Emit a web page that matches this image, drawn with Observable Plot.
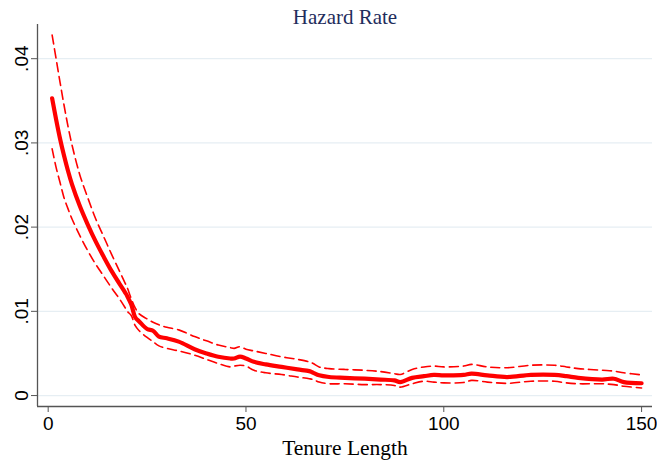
<!DOCTYPE html>
<html><head><meta charset="utf-8">
<script src="https://cdn.jsdelivr.net/npm/d3@7"></script>
<script src="https://cdn.jsdelivr.net/npm/@observablehq/plot@0.6"></script>
<style>body{margin:0;background:#fff}</style>
</head><body><div id="chart"></div>
<script>
const tenure = [1,2,3,4,5,6,8,10,12,14,16,18,19.5,20,21,22,23,25,26.5,28,30,33,37,40,43,46,47,48.5,50,52,55,59,63,66,67,68.5,71,75,80,84,87.5,89,92,95,97.5,100,105,107,111,116,122,128,131,134,140,143,145.5,150];
const hazard = [.0353,.0328,.0305,.0285,.0267,.0251,.0225,.0203,.0183,.0165,.0148,.0133,.0122,.0118,.0108,.0093,.0088,.0079,.0077,.0070,.0068,.0064,.0055,.0050,.0046,.0044,.0044,.00463,.0044,.0040,.0037,.0034,.0031,.0029,.0027,.0024,.0022,.0021,.0020,.0019,.0018,.0016,.0021,.0023,.00245,.0024,.00245,.0026,.0024,.0022,.00245,.00245,.0023,.0021,.0019,.0020,.0016,.00146];
const upper = [.0428,.0400,.0372,.0345,.0320,.0298,.0262,.0235,.0210,.0189,.0168,.0148,.0133,.0128,.0115,.0104,.0097,.0091,.0087,.0084,.0081,.0078,.0070,.0065,.0060,.0057,.0056,.0058,.0055,.0053,.0050,.0046,.0043,.0040,.0038,.0034,.0032,.0031,.0030,.00285,.0026,.0025,.0031,.0034,.0035,.0034,.0035,.0037,.0034,.0033,.0036,.0036,.0034,.0032,.0030,.0029,.0027,.00245];
const lower = [.0293,.0271,.0253,.0235,.0222,.0210,.0190,.0172,.0156,.0142,.0128,.0115,.0104,.0100,.0095,.0083,.0077,.0069,.0064,.0059,.0056,.0053,.0048,.0043,.0038,.0034,.0035,.0036,.0035,.0030,.0027,.0025,.0022,.0020,.0019,.0016,.0014,.0014,.0013,.0013,.0012,.0010,.0014,.0017,.0016,.0015,.00155,.0018,.0016,.00145,.0017,.0017,.0015,.0014,.0014,.0013,.0011,.0009];
const yTicks = [0, 0.01, 0.02, 0.03, 0.04];
const yTickLabels = ["0", ".01", ".02", ".03", ".04"];
const xTicks = [0, 50, 100, 150];
const titleText = "Hazard Rate";
const xLabel = "Tenure Length";

const rows = tenure.map((t, i) => ({t, h: hazard[i], u: upper[i], l: lower[i]}));
const xDom = [-2.70, 152.76];
const yDom = [-0.0013, 0.04406];

const chart = Plot.plot({
  width: 657, height: 461,
  marginTop: 24, marginBottom: 55, marginLeft: 37, marginRight: 5,
  style: {fontFamily: "'Liberation Sans', Arial, sans-serif", background: "#fff", color: "#000"},
  x: {domain: xDom},
  y: {domain: yDom},
  marks: [
    Plot.gridY(yTicks, {stroke: "#e6eef3", strokeOpacity: 1, strokeWidth: 1.3}),
    Plot.line(rows, {x: "t", y: "u", curve: "catmull-rom", stroke: "#ff0000", strokeWidth: 1.6, strokeDasharray: "9,5"}),
    Plot.line(rows, {x: "t", y: "l", curve: "catmull-rom", stroke: "#ff0000", strokeWidth: 1.6, strokeDasharray: "9,5"}),
    Plot.line(rows, {x: "t", y: "h", curve: "catmull-rom", stroke: "#ff0000", strokeWidth: 4.2, strokeLinecap: "round", strokeLinejoin: "round"}),
    Plot.ruleX([xDom[0]], {stroke: "#555", strokeWidth: 1.3}),
    Plot.ruleY([yDom[0]], {stroke: "#555", strokeWidth: 1.3}),
    Plot.axisY(yTicks, {tickFormat: d => yTickLabels[yTicks.indexOf(d)], tickRotate: -90, tickSize: 6, tickPadding: 4, fontSize: 19, stroke: "#555", fill: "#000", label: null}),
    Plot.axisX(xTicks, {tickSize: 6, tickPadding: 4, fontSize: 19, stroke: "#555", fill: "#000", label: null}),
    Plot.text([titleText], {frameAnchor: "top", lineAnchor: "middle", dy: -7.4, fontSize: 21, fontFamily: "'Liberation Serif', 'Times New Roman', serif", fill: "#1f2d5c"}),
    Plot.text([xLabel], {frameAnchor: "bottom", lineAnchor: "middle", dy: 41.4, fontSize: 21.5, fontFamily: "'Liberation Serif', 'Times New Roman', serif", fill: "#000"})
  ]
});
document.getElementById("chart").appendChild(chart);
</script>
</body></html>
